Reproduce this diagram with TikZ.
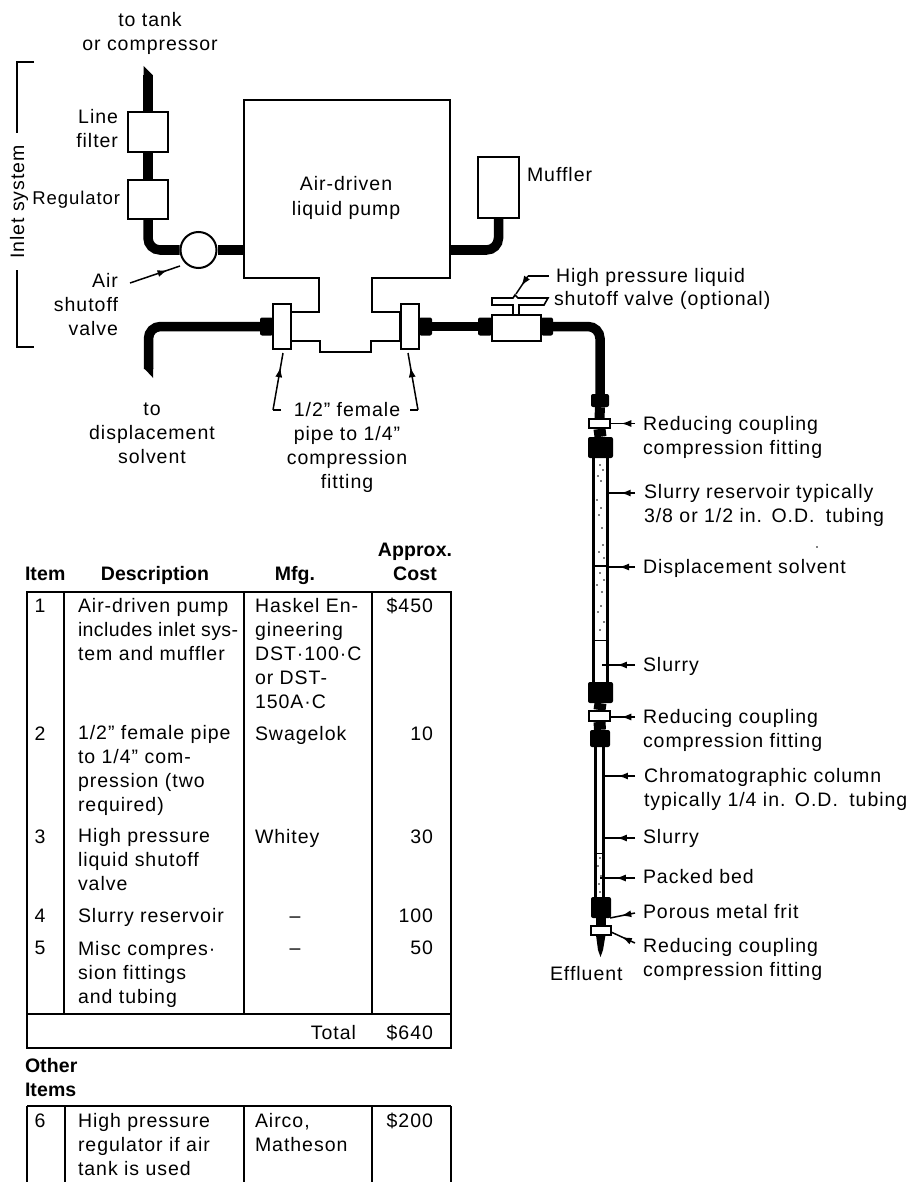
\documentclass[tikz,border=0pt]{standalone}
\usepackage{fontspec}
\setmainfont[LetterSpace=5,BoldFeatures={LetterSpace=0.5}]{Liberation Sans}
\usetikzlibrary{arrows.meta,decorations.markings}
\tikzset{
  x=1pt,y=-1pt,
  lab/.style={inner sep=0pt,outer sep=0pt,font=\fontsize{19.5}{24}\selectfont,anchor=base west,align=left},
  labr/.style={lab,anchor=base east,align=right},
  labc/.style={lab,anchor=base,align=center},
  hd/.style={inner sep=0pt,font=\fontsize{19.5}{24}\selectfont\bfseries,anchor=base,align=center},
  outline/.style={draw=black,line width=2pt,fill=white},
  boxn/.style={outline,inner sep=0pt,minimum width=#1},
  nut/.style={fill=black,draw=none,inner sep=0pt,rounded corners=2pt},
  pipe/.style={line width=9.5pt,draw=black,rounded corners=12pt},
  thin pipe/.style={line width=6pt,draw=black},
  wall/.style={line width=3pt,draw=black},
  rule/.style={line width=1.6pt,draw=black},
  leader/.style={line width=1.5pt,draw=black},
  ptr/.style={leader,postaction={decorate},decoration={markings,mark=at position #1 with {\arrow{Latex[length=10pt,width=7pt]}}}},
  ptr/.default=0.55,
  speck/.style={fill=black,draw=none}
}
\begin{document}
\begin{tikzpicture}
\frenchspacing
\useasboundingbox (0,0) rectangle (915,1182);
\fill[white] (0,0) rectangle (915,1182);

% inlet bracket
\coordinate (brA) at (34,62); \coordinate (brB) at (17,62); \coordinate (brC) at (17,133);
\coordinate (brD) at (17,270); \coordinate (brE) at (17,347); \coordinate (brF) at (34,347);
\draw[rule] (brA) -- (brB) -- (brC);
\draw[rule] (brD) -- (brE) -- (brF);
\node[lab,anchor=base,rotate=90] (inlet) at (24,202) {Inlet system};

% labels top left
\node[labc] (tank) at (150,51) {to tank\\or compressor};
\node[labr] (linefilter) at (118,148) {Line\\filter};
\node[labr,font=\fontsize{18.5}{24}\selectfont] (regl) at (120,205) {Regulator};
\node[labr] (airl) at (118,335) {Air\\shutoff\\valve};
\node[labc] (disp) at (152,463) {to\\displacement\\solvent};
\node[labc] (fem) at (347,488) {1/2'' female\\pipe to 1/4''\\compression\\fitting};

% pump body
\draw[outline] (244,100) -- (450,100) -- (450,278) -- (372,278) -- (372,312) -- (400,312)
  -- (400,341) -- (371,341) -- (371,352) -- (320,352) -- (320,341) -- (291,341) -- (291,312)
  -- (319,312) -- (319,278) -- (244,278) -- cycle;
\coordinate (pumpL) at (244,250);
\coordinate (pumpR) at (450,250);
\node[labc,font=\fontsize{19.5}{25.5}\selectfont] (pumpl) at (346,216) {Air-driven\\liquid pump};

% inlet line
\node[boxn=40pt,minimum height=40pt] (filter) at (148,132) {};
\node[boxn=40pt,minimum height=39pt] (reg) at (148,199.5) {};
\node[outline,circle,minimum size=36pt,inner sep=0pt] (valve) at (198.5,250) {};
\coordinate (inTop) at (148,75);
\fill (143.5,66) -- (152.5,75) -- (143.5,75) -- cycle;
\draw[pipe] (inTop) -- (filter.north);
\draw[pipe] (filter.south) -- (reg.north);
\draw[pipe] (reg.south) |- (valve.west);
\draw[pipe] (valve.east) -- (pumpL);

% muffler
\node[boxn=41pt,minimum height=61pt] (muff) at (498.5,187.5) {};
\node[lab] (muffl) at (527,182) {Muffler};
\draw[pipe] (pumpR) -| (muff.south);

% displacement solvent line
\node[boxn=18pt,minimum height=45pt] (lfit) at (282,326.5) {};
\node[boxn=18pt,minimum height=45pt] (rfit) at (409.5,326.5) {};
\node[nut,minimum width=13pt,minimum height=18pt] (lnut) at (266.5,326.5) {};
\node[nut,minimum width=13pt,minimum height=18pt] (rnut) at (425.5,326.5) {};
\coordinate (solv) at (148.5,369);
\fill (143.8,368) -- (153.2,378) -- (153.2,368) -- cycle;
\draw[pipe] (solv) |- (lnut.west);

% high-pressure valve
\node[boxn=49pt,minimum height=26pt] (hpv) at (516.5,328) {};
\node[nut,minimum width=14pt,minimum height=18pt] (hl) at (485,326.5) {};
\node[nut,minimum width=12pt,minimum height=18pt] (hr) at (547,326.5) {};
\draw[pipe] (rnut.east) -- (hl.west);
\draw[outline,line width=1.6pt] (492,298) -- (513,298) -- (515,295) -- (518,298) -- (548,298) -- (544,305) -- (519,305) -- (519,315) -- (513,315) -- (513,305) -- (492,305) -- cycle;

% reservoir and column
\node[nut,minimum width=18pt,minimum height=13pt] (n1) at (600,400.5) {};
\node[nut,minimum width=25pt,minimum height=21pt] (n2) at (600.5,447.5) {};
\node[nut,minimum width=25pt,minimum height=21pt] (n3) at (600.5,692.5) {};
\node[nut,minimum width=20pt,minimum height=17pt] (n4) at (600,738.5) {};
\node[nut,minimum width=20pt,minimum height=21pt] (n5) at (601,907.5) {};
\draw[pipe] (hr.east) -| (n1.north);
\node[outline,minimum width=21pt,minimum height=9pt,inner sep=0pt] (c1) at (599.5,423.5) {};
\node[outline,minimum width=21pt,minimum height=10pt,inner sep=0pt] (c2) at (599.5,716) {};
\node[outline,minimum width=20pt,minimum height=9pt,inner sep=0pt] (c3) at (601,930.5) {};
\draw[thin pipe,line width=10pt] (n1.south) -- (c1.north);
\draw[thin pipe,line width=12pt] (c1.south) -- (n2.north);
\draw[thin pipe,line width=12pt] (n3.south) -- (c2.north);
\draw[thin pipe,line width=12pt] (c2.south) -- (n4.north);
\draw[thin pipe,line width=10pt] (n5.south) -- (c3.north);
\fill (596,935) -- (605.5,935) -- (603,950) -- (600.5,957) -- (598,950) -- cycle;

\draw[wall] (593.5,458) -- (593.5,682);
\draw[wall] (607.5,458) -- (607.5,682);
\draw[rule] (592,566) -- (609,566);
\draw[line width=1pt] (593,640) -- (608,640);
\draw[wall] (595.5,747) -- (595.5,897);
\draw[wall] (603.5,747) -- (603.5,897);
\draw[line width=1pt] (596,853) -- (603,853);
\foreach \px/\py in {600/465,603/470,598/476,601/481,597/500,601/508,599/515,602/528,603/545,599/552,604/558,600/573,604/580,597/585,602/592,598/612,601/606,604/622,600/630,
  600/858,598/866,601/876,599/884,600/892,817/547}
  \fill[speck] (\px,\py) circle (0.9pt);

% label pointers
\coordinate (hpA) at (549,276); \coordinate (hpB) at (528,276); \coordinate (hpC) at (516,294);
\draw[leader] (hpA) -- (hpB);
\draw[ptr] (hpB) -- (hpC);
\coordinate (airA) at (130,283); \coordinate (airB) at (180,266);
\draw[ptr=0.75] (airA) -- (airB);
\coordinate (feA) at (281,410); \coordinate (feB) at (273,410); \coordinate (feC) at (283,353);
\coordinate (frA) at (410,410); \coordinate (frB) at (418,410); \coordinate (frC) at (408,353);
\draw[leader] (feA) -- (feB);
\draw[ptr=0.75] (feB) -- (feC);
\draw[leader] (frA) -- (frB);
\draw[ptr=0.75] (frB) -- (frC);

% right labels
\node[lab] (hpl) at (556,282) {High pressure liquid};
\node[lab] (hpl2) at (554,305) {shutoff valve (optional)};
\node[lab] (rc1) at (643,454) {Reducing coupling\\compression fitting};
\node[lab] (sr) at (644,522) {Slurry reservoir typically\\3/8 or 1/2 in.\hspace{3pt} O.D.\hspace{5pt} tubing};
\node[lab] (ds) at (643,573) {Displacement solvent};
\node[lab] (sl1) at (643,671) {Slurry};
\node[lab] (rc2) at (643,747) {Reducing coupling\\compression fitting};
\node[lab] (cc) at (644,806) {Chromatographic column\\typically 1/4 in.\hspace{3pt} O.D.\hspace{5pt} tubing};
\node[lab] (sl2) at (643,843) {Slurry};
\node[lab] (pb) at (643,883) {Packed bed};
\node[lab] (pf) at (643,918) {Porous metal frit};
\node[lab] (rc3) at (643,976) {Reducing coupling\\compression fitting};
\node[lab] (eff) at (550,980) {Effluent};

\foreach \nm/\y/\xe in {a/423.5/610,b/493/609,c/567/606,d/665/602,e/717/610,f/776/604,g/838/602,h/878/600}{
  \coordinate (s\nm) at (635,\y);
  \coordinate (t\nm) at (\xe,\y);
  \draw[ptr] (s\nm) -- (t\nm);
}
\coordinate (si) at (635,913); \coordinate (ti) at (610,918);
\draw[ptr] (si) -- (ti);
\coordinate (sj) at (635,943); \coordinate (tj) at (611,932);
\draw[ptr] (sj) -- (tj);

% table
\node[lab] (hitem) at (25,580) {\bfseries Item};
\node[hd] (hdesc) at (155,580) {Description};
\node[hd] (hmfg) at (295,580) {Mfg.};
\node[hd] (hcost) at (415,580) {Approx.\\Cost};
\draw[rule,line width=2.2pt] (26,592) -- (452,592);
\draw[rule,line width=2.2pt] (26,1014) -- (452,1014);
\draw[rule] (27,592) -- (27,1048) -- (451,1048) -- (451,592);
\foreach \cx in {64,244,372} \draw[rule] (\cx,592) -- (\cx,1014);
\draw[rule] (27,1106) -- (451,1106);
\foreach \cx in {27,65,244,372,451} \draw[rule] (\cx,1106) -- (\cx,1182);

\node[labc] (i1) at (40,612) {1};
\node[lab] (d1) at (78,660) {Air-driven pump\\{\addfontfeature{LetterSpace=2}includes inlet sys-}\\tem and muffler};
\node[lab] (m1) at (255,708) {Haskel En-\\gineering\\DST·100·C\\or DST-\\150A·C};
\node[labr] (c1t) at (433,612) {\$450};
\node[labc] (i2) at (40,740) {2};
\node[lab] (d2) at (78,811) {1/2'' female pipe\\to 1/4'' com-\\pression (two\\required)};
\node[lab] (m2) at (255,740) {Swagelok};
\node[labr] (c2t) at (433,740) {10};
\node[labc] (i3) at (40,843) {3};
\node[lab] (d3) at (78,890) {High pressure\\liquid shutoff\\valve};
\node[lab] (m3) at (255,843) {Whitey};
\node[labr] (c3t) at (433,843) {30};
\node[labc] (i4) at (40,922) {4};
\node[lab] (d4) at (78,922) {Slurry reservoir};
\node[labc] (m4) at (295,922) {–};
\node[labr] (c4t) at (433,922) {100};
\node[labc] (i5) at (40,954) {5};
\node[lab] (d5) at (78,1003) {Misc compres·\\sion fittings\\and tubing};
\node[labc] (m5) at (295,954) {–};
\node[labr] (c5t) at (433,954) {50};
\node[labr] (tot) at (356,1039) {Total};
\node[labr] (totv) at (433,1039) {\$640};
\node[lab] (other) at (25,1096) {\bfseries Other\\\bfseries Items};
\node[labc] (i6) at (40,1127) {6};
\node[lab] (d6) at (78,1175) {High pressure\\regulator if air\\tank is used};
\node[lab] (m6) at (255,1151) {Airco,\\Matheson};
\node[labr] (c6t) at (433,1127) {\$200};
\end{tikzpicture}
\end{document}
